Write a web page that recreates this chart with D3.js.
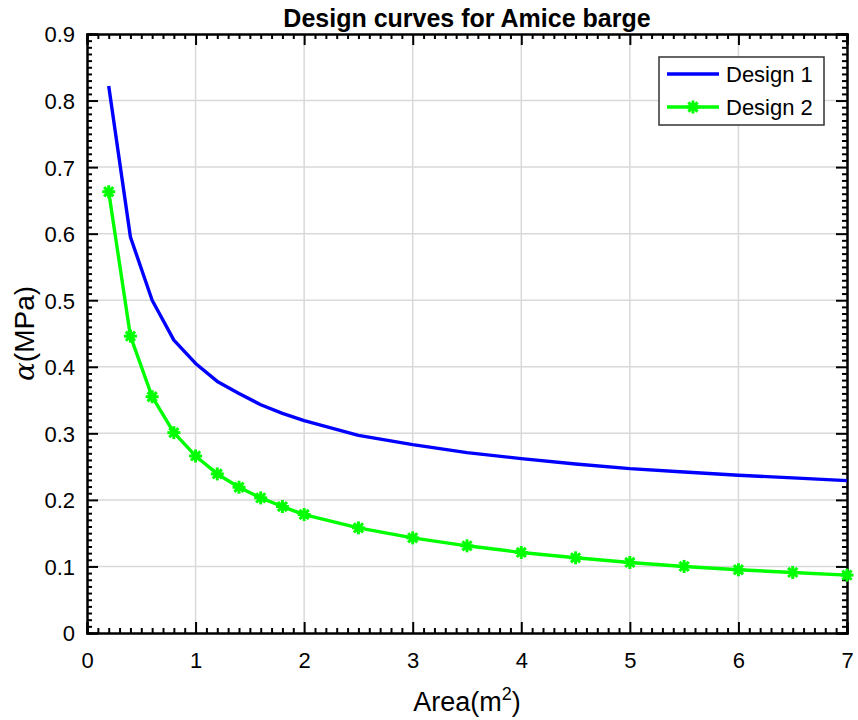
<!DOCTYPE html>
<html><head><meta charset="utf-8">
<script src="https://cdn.jsdelivr.net/npm/d3@7"></script>
<style>body{margin:0;background:#fff}svg{display:block}text{font-family:"Liberation Sans",Arial,sans-serif}</style>
</head><body>
<script>
const areas = [0.2,0.4,0.6,0.8,1.0,1.2,1.4,1.6,1.8,2.0,2.5,3,3.5,4,4.5,5,5.5,6,6.5,7];
const design1 = [0.822,0.595,0.500,0.440,0.405,0.378,0.360,0.343,0.330,0.319,0.297,0.283,0.271,0.262,0.254,0.247,0.242,0.237,0.233,0.229];
const design2 = [0.663,0.446,0.355,0.301,0.266,0.239,0.219,0.203,0.190,0.178,0.158,0.143,0.131,0.121,0.113,0.106,0.100,0.095,0.091,0.087];
const xTicks = [0,1,2,3,4,5,6,7];
const yTicks = [0,0.1,0.2,0.3,0.4,0.5,0.6,0.7,0.8,0.9];
const seriesNames = ["Design 1","Design 2"];

const W=858,H=720;
const L=87,R=847,T=34,B=633;
const svg=d3.select("body").append("svg").attr("width",W).attr("height",H);
const x=d3.scaleLinear().domain([0,7]).range([L,R]);
const y=d3.scaleLinear().domain([0,0.9]).range([B,T]);

// grid
const g=svg.append("g");
g.selectAll(".gx").data(xTicks.slice(1,-1)).join("line")
 .attr("x1",d=>x(d)).attr("x2",d=>x(d)).attr("y1",T).attr("y2",B)
 .attr("stroke","#d9d9d9").attr("stroke-width",1.5);
g.selectAll(".gy").data(yTicks.slice(1,-1)).join("line")
 .attr("y1",d=>y(d)).attr("y2",d=>y(d)).attr("x1",L).attr("x2",R)
 .attr("stroke","#d9d9d9").attr("stroke-width",1.5);

// axes
const xMinor=d3.range(0,70.1,1).map(i=>i/10).filter(v=>Math.abs(v-Math.round(v))>1e-6);
const yMinor=d3.range(0,90.1,1).map(i=>i/100).filter(v=>Math.abs(v*10-Math.round(v*10))>1e-6);
function axisGroup(axis, tr){
  const a=svg.append("g").attr("transform",tr).call(axis);
  a.selectAll("path").attr("stroke","#000").attr("stroke-width",2);
  a.selectAll("line").attr("stroke","#000").attr("stroke-width",2);
  a.selectAll("text").attr("font-size",22).attr("fill","#000");
  return a;
}
// minor ticks
axisGroup(d3.axisBottom(x).tickValues(xMinor).tickSize(-5).tickFormat(""),`translate(0,${B})`);
axisGroup(d3.axisTop(x).tickValues(xMinor).tickSize(-5).tickFormat(""),`translate(0,${T})`);
axisGroup(d3.axisLeft(y).tickValues(yMinor).tickSize(-5).tickFormat(""),`translate(${L},0)`);
axisGroup(d3.axisRight(y).tickValues(yMinor).tickSize(-5).tickFormat(""),`translate(${R},0)`);
// major ticks
const xb=axisGroup(d3.axisBottom(x).tickValues(xTicks).tickSize(-11).tickFormat(d3.format("d")),`translate(0,${B})`);
axisGroup(d3.axisTop(x).tickValues(xTicks).tickSize(-11).tickFormat(""),`translate(0,${T})`);
const yl=axisGroup(d3.axisLeft(y).tickValues(yTicks).tickSize(-11).tickFormat(d=>d===0?"0":d3.format(".1f")(d)),`translate(${L},0)`);
axisGroup(d3.axisRight(y).tickValues(yTicks).tickSize(-11).tickFormat(""),`translate(${R},0)`);
yl.selectAll("text").attr("x",-12).attr("dy","0.36em");
xb.selectAll("text").attr("y",35).attr("dy",0);

// lines
const line=d3.line().x(d=>x(d[0])).y(d=>y(d[1]));
const d1=areas.map((a,i)=>[a,design1[i]]);
const d2=areas.map((a,i)=>[a,design2[i]]);
svg.append("path").datum(d1).attr("d",line).attr("fill","none").attr("stroke","#0000ff").attr("stroke-width",3.4).attr("stroke-linejoin","round");
svg.append("path").datum(d2).attr("d",line).attr("fill","none").attr("stroke","#00ff00").attr("stroke-width",3.4).attr("stroke-linejoin","round");

function star(sel,cx,cy,r){
  const gg=sel.append("g").attr("transform",`translate(${cx},${cy})`);
  for(let k=0;k<4;k++){
    const ang=k*Math.PI/4;
    gg.append("line").attr("x1",-r*Math.cos(ang)).attr("y1",-r*Math.sin(ang))
      .attr("x2",r*Math.cos(ang)).attr("y2",r*Math.sin(ang))
      .attr("stroke","#00ff00").attr("stroke-width",3);
  }
  gg.append("circle").attr("r",r*0.62).attr("fill","#00ff00");
}
const mk=svg.append("g");
d2.forEach(d=>star(mk,x(d[0]),y(d[1]),6.5));

// legend
const lg=svg.append("g");
lg.append("rect").attr("x",659).attr("y",57).attr("width",165).attr("height",68).attr("fill","#fff").attr("stroke","#333").attr("stroke-width",1.5);
lg.append("line").attr("x1",667).attr("x2",719).attr("y1",74).attr("y2",74).attr("stroke","#0000ff").attr("stroke-width",3.4);
lg.append("line").attr("x1",667).attr("x2",719).attr("y1",107).attr("y2",107).attr("stroke","#00ff00").attr("stroke-width",3.4);
star(lg,693,107,6.5);
lg.append("text").attr("x",726).attr("y",82).attr("font-size",22).text(seriesNames[0]);
lg.append("text").attr("x",726).attr("y",115).attr("font-size",22).text(seriesNames[1]);

// title
svg.append("text").attr("x",(L+R)/2).attr("y",27).attr("text-anchor","middle").attr("font-size",25).attr("font-weight","bold").text("Design curves for Amice barge");
// x label
const xl=svg.append("text").attr("x",(L+R)/2).attr("y",711).attr("text-anchor","middle").attr("font-size",27);
xl.append("tspan").text("Area(m");
xl.append("tspan").attr("font-size",18).attr("dy",-11).text("2");
xl.append("tspan").attr("dy",11).text(")");
// y label
const ylab=svg.append("text").attr("transform",`translate(34,${(T+B)/2}) rotate(-90)`).attr("text-anchor","middle").attr("font-size",28);
ylab.append("tspan").attr("font-family","'DejaVu Serif',serif").attr("font-style","italic").text("α");
ylab.append("tspan").text("(MPa)");
</script>
</body></html>
